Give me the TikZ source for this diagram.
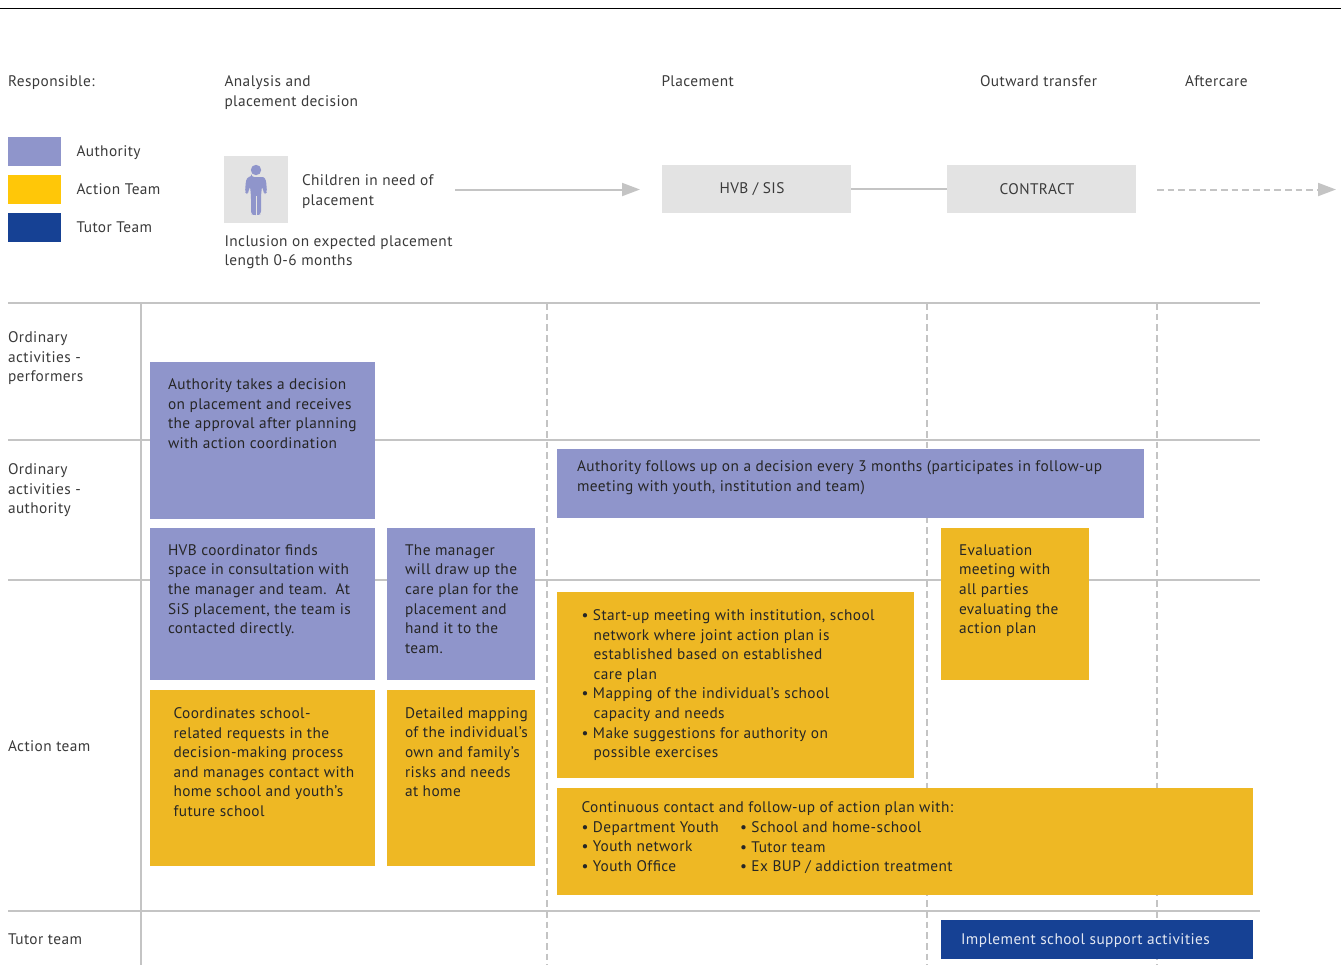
\documentclass[tikz,border=0pt]{standalone}
\usepackage{fontspec}
\setmainfont[LetterSpace=2.8]{PT Sans}
\usetikzlibrary{arrows.meta}
\definecolor{auth}{HTML}{8F95CB}
\definecolor{legy}{HTML}{FFC708}
\definecolor{acty}{HTML}{EEB824}
\definecolor{tut}{HTML}{164194}
\definecolor{pale}{HTML}{E3E3E3}
\definecolor{rule}{HTML}{C4C4C4}
\definecolor{ink}{HTML}{3A3A3A}
\newcommand{\ind}{\hspace*{9pt}}
\tikzset{
  x=0.75pt,y=-0.75pt,
  txt/.style={anchor=north west,inner sep=0pt,outer sep=0pt,align=left,text=ink,font=\fontsize{11.5pt}{14.7pt}\selectfont},
  dtxt/.style={txt,text=black!85},
  ltxt/.style={txt,text=white!88!tut},
  gridline/.style={draw=rule,line width=1.5pt},
  griddash/.style={draw=rule,line width=1.5pt,dash pattern=on 5pt off 3pt},
  flow/.style={draw=rule,line width=1.5pt},
  tip/.style={-{Triangle[length=13.5pt,width=9.75pt,fill=rule]}},
  palebox/.style={fill=pale,minimum width=141.75pt,minimum height=36pt,inner sep=0pt,text=ink,font=\fontsize{11.5pt}{14.7pt}\selectfont},
}
\begin{document}
\begin{tikzpicture}
\useasboundingbox (0,0) rectangle (1341,965);
\draw[black,line width=0.75pt] (0,8.5) -- (1341,8.5);
% grid
\foreach \y/\n in {303/a,440/b,580/c,911/d}{
  \coordinate (gl\n) at (8,\y); \coordinate (gr\n) at (1260,\y);
  \draw[gridline] (gl\n) -- (gr\n);}
\coordinate (vt) at (141,303); \coordinate (vb) at (141,965);
\draw[gridline] (vt) -- (vb);
\foreach \x/\n in {547/a,927/b,1157/c}{
  \coordinate (dt\n) at (\x,303); \coordinate (db\n) at (\x,965);
  \draw[griddash] (dt\n) -- (db\n);}
% header
\node[txt] (resp) at (8,75.5) {Responsible:};
\node[txt] (ana) at (224.5,75.5) {Analysis and\\placement decision};
\node[txt] (plc) at (661.5,75.5) {Placement};
\node[txt] (out) at (980,75.5) {Outward transfer};
\node[txt] (aft) at (1185,75.5) {Aftercare};
% legend
\fill[auth] (8,137) rectangle (61,166);
\fill[legy] (8,175) rectangle (61,204);
\fill[tut] (8,213) rectangle (61,242);
\node[txt] (l1) at (76.5,145.5) {Authority};
\node[txt] (l2) at (76.5,183.5) {Action Team};
\node[txt] (l3) at (76.5,221.5) {Tutor Team};
% person
\fill[pale] (224,156) rectangle (288,223);
\fill[auth] (256,170) circle (5.2);
\fill[auth,rounded corners=2] (251.5,177) -- (260.5,177) .. controls (264,177) and (266,179) .. (266.5,186) -- (267,192) -- (265,194) -- (263.5,192) -- (262,186) -- (261,196) -- (261,214) -- (258,215) -- (254,215) -- (251,214) -- (251,196) -- (250,186) -- (248.5,192) -- (247,194) -- (245,192) -- (245.5,186) .. controls (246,179) and (248,177) .. (251.5,177) -- cycle;
\draw[pale,line width=0.5pt] (256,196) -- (256,216);
\node[txt] (kids) at (302,174.5) {Children in need of\\placement};
\node[txt] (incl) at (224.5,235.5) {Inclusion on expected placement\\length 0-6 months};
% flow
\node[palebox] (hvb) at (756.5,189) {HVB / SIS\hspace*{6.75pt}};
\node[palebox] (con) at (1041.5,189) {CONTRACT\hspace*{6.75pt}};
\coordinate (a1s) at (455,189.5); \coordinate (a1e) at (640,189.5);
\coordinate (a2s) at (1157,189.5); \coordinate (a2e) at (1336,189.5);
\draw[flow,tip] (a1s) -- (a1e);
\draw[flow] (hvb) -- (con);
\draw[flow,tip,dash pattern=on 5pt off 3pt] (a2s) -- (a2e);
% row labels
\node[txt] (r1) at (8,331.5) {Ordinary\\activities -\\performers};
\node[txt] (r2) at (8,463.5) {Ordinary\\activities -\\authority};
\node[txt] (r3) at (8,740.5) {Action team};
\node[txt] (r4) at (8,933.5) {Tutor team};
% boxes
\fill[auth] (150,362) rectangle (375,519);
\node[dtxt] (b1) at (168,378.5) {Authority takes a decision\\on placement and receives\\the approval after planning\\with action coordination};
\fill[auth] (557,449) rectangle (1144,518);
\node[dtxt] (b2) at (577,460.5) {Authority follows up on a decision every 3 months (participates in follow-up\\meeting with youth, institution and team)};
\fill[auth] (150,528) rectangle (375,680);
\node[dtxt] (b3) at (168,544.5) {HVB coordinator finds\\space in consultation with\\the manager and team.\ \ At\\SiS placement, the team is\\contacted directly.};
\fill[auth] (387,528) rectangle (535,680);
\node[dtxt] (b4) at (405,544.5) {The manager\\will draw up the\\care plan for the\\placement and\\hand it to the\\team.};
\fill[acty] (941,528) rectangle (1089,680);
\node[dtxt] (b5) at (959,544.5) {Evaluation\\meeting with\\all parties\\evaluating the\\action plan};
\fill[acty] (557,592) rectangle (914,778);
\node[dtxt] (b6) at (581.5,609.5) {• Start-up meeting with institution, school\\\ind network where joint action plan is\\\ind established based on established\\\ind care plan\\• Mapping of the individual's school\\\ind capacity and needs\\• Make suggestions for authority on\\\ind possible exercises};
\fill[acty] (150,690) rectangle (375,866);
\node[dtxt] (b7) at (173.5,707.5) {Coordinates school-\\related requests in the\\decision-making process\\and manages contact with\\home school and youth's\\future school};
\fill[acty] (387,690) rectangle (535,866);
\node[dtxt] (b8) at (405,707.5) {Detailed mapping\\of the individual's\\own and family's\\risks and needs\\at home};
\fill[acty] (557,788) rectangle (1253,895);
\node[dtxt] (b9) at (581.5,801.5) {Continuous contact and follow-up of action plan with:\\• Department Youth\\• Youth network\\• Youth Office};
\node[dtxt] (b10) at (740,821.5) {• School and home-school\\• Tutor team\\• Ex BUP / addiction treatment};
\fill[tut] (941,920) rectangle (1253,959);
\node[ltxt] (b11) at (961,933.5) {Implement school support activities};
\end{tikzpicture}
\end{document}
